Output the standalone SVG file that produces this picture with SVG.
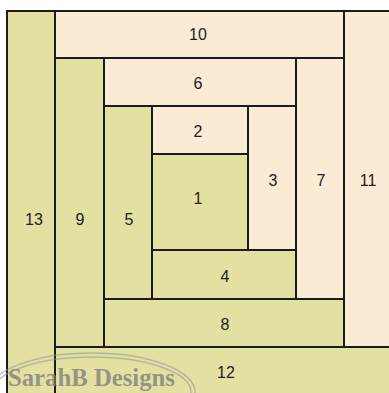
<svg xmlns="http://www.w3.org/2000/svg" width="389" height="393" viewBox="0 0 389 393">
<style>
.g{fill:#e3e0a2;stroke:#1c1c1c;stroke-width:2}
.c{fill:#f9ebd4;stroke:#1c1c1c;stroke-width:2}
.t{font-family:"Liberation Sans",Arial,sans-serif;font-size:16px;fill:#222;text-anchor:middle}
.wm{font-family:"Liberation Serif","Times New Roman",serif;font-size:26px;font-weight:bold;fill:#7a7a7a;fill-opacity:0.75}
.el{fill:none;stroke:#9a9a9a;stroke-opacity:0.6;stroke-width:1.5}
</style>
<rect x="0" y="0" width="389" height="393" fill="#ffffff"/>
<g id="n13"><rect class="g" x="7" y="11" width="48" height="384"/><text class="t" x="34" y="225">13</text></g>
<g id="n12"><rect class="g" x="55" y="347" width="336" height="48"/><text class="t" x="226" y="378">12</text></g>
<g id="n11"><rect class="c" x="344" y="11" width="47" height="336"/><text class="t" x="368" y="186">11</text></g>
<g id="n10"><rect class="c" x="55" y="11" width="289" height="47"/><text class="t" x="198" y="40">10</text></g>
<g id="n9"><rect class="g" x="55" y="58" width="49" height="289"/><text class="t" x="80" y="225">9</text></g>
<g id="n8"><rect class="g" x="104" y="299" width="240" height="48"/><text class="t" x="225" y="330">8</text></g>
<g id="n7"><rect class="c" x="296" y="58" width="48" height="241"/><text class="t" x="321" y="186">7</text></g>
<g id="n6"><rect class="c" x="104" y="58" width="192" height="48"/><text class="t" x="198" y="89">6</text></g>
<g id="n5"><rect class="g" x="104" y="106" width="48" height="193"/><text class="t" x="129" y="225">5</text></g>
<g id="n4"><rect class="g" x="152" y="250" width="144" height="49"/><text class="t" x="225" y="282">4</text></g>
<g id="n3"><rect class="c" x="248" y="106" width="48" height="144"/><text class="t" x="273" y="186">3</text></g>
<g id="n2"><rect class="c" x="152" y="106" width="96" height="48"/><text class="t" x="198" y="137">2</text></g>
<g id="n1"><rect class="g" x="152" y="154" width="96" height="96"/><text class="t" x="198" y="204">1</text></g>
<g id="connectors"></g>
<g id="watermark">
<ellipse class="el" cx="92" cy="392" rx="103" ry="39"/>
<ellipse class="el" cx="92" cy="392" rx="99" ry="35"/>
<text class="wm" x="8" y="386" textLength="167" lengthAdjust="spacingAndGlyphs">SarahB Designs</text>
</g>
</svg>
